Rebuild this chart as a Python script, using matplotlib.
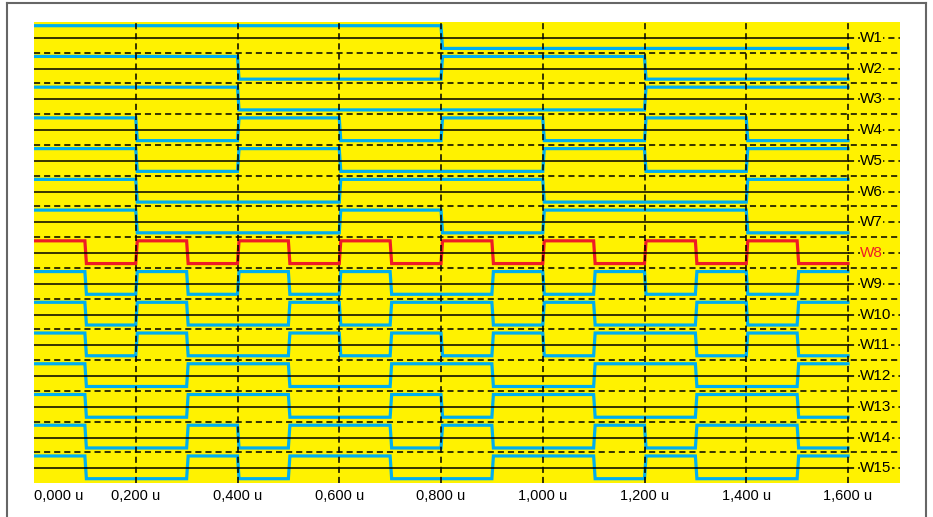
import matplotlib.pyplot as plt
from matplotlib.lines import Line2D

plt.rcParams['font.family'] = ['Liberation Sans', 'DejaVu Sans']

# signal names, top to bottom
names = ['W1', 'W2', 'W3', 'W4', 'W5', 'W6', 'W7', 'W8',
         'W9', 'W10', 'W11', 'W12', 'W13', 'W14', 'W15']

# logic level of each signal in 0.1 u steps (1 = high)
patterns = [
    '1111111100000000',
    '1111000011110000',
    '1111000000001111',
    '1100110011001100',
    '1100110000110011',
    '1100001111000011',
    '1100001100111100',
    '1010101010101010',
    '1010101001010101',
    '1010010110100101',
    '1010010101011010',
    '1001100110011001',
    '1001100101100110',
    '1001011010010110',
    '1001011001101001',
]
step = 0.1

ticks = [0.0, 0.2, 0.4, 0.6, 0.8, 1.0, 1.2, 1.4, 1.6]
tick_labels = ['0,000 u', '0,200 u', '0,400 u', '0,600 u', '0,800 u',
               '1,000 u', '1,200 u', '1,400 u', '1,600 u']

t_end = 1.6
yellow = '#FFF200'
blue = '#00AEEF'
red = '#EE1C25'


def wave(bits, row, edge=0.003):
    hi, lo = row + 0.12, row + 0.86
    lv = [hi if b == '1' else lo for b in bits]
    ts, ys = [0.0], [lv[0]]
    for i in range(1, len(lv)):
        if lv[i] != lv[i - 1]:
            t = i * step
            ts += [t, t + edge]
            ys += [lv[i - 1], lv[i]]
    ts.append(len(lv) * step)
    ys.append(lv[-1])
    return ts, ys


W, H = 933, 517
fig = plt.figure(figsize=(W / 100, H / 100), dpi=100)
ax = fig.add_axes([34 / W, 1 - 483 / H, 866 / W, 461 / H])
ax.set_facecolor(yellow)
x_max = t_end + 52 / 508.75
ax.set_xlim(0, x_max)
ax.set_ylim(len(names), 0)
for s in ax.spines.values():
    s.set_visible(False)

dash = (0, (4, 2.6))

# row grid: dashed borders, solid centre lines (dashed past the end of data)
for k in range(1, len(names)):
    ax.axhline(k, color='black', lw=1.1, ls=dash, zorder=3)
for k in range(len(names)):
    mid = k + 0.52
    ax.plot([0, t_end], [mid, mid], color='black', lw=1.1, zorder=3)
    ax.plot([t_end, x_max], [mid, mid], color='black', lw=1.1, ls=dash, zorder=3)

for t in ticks[1:]:
    ax.axvline(t, color='black', lw=1.1, ls=dash, zorder=3)

for k, (name, bits) in enumerate(zip(names, patterns)):
    col = red if name == 'W8' else blue
    ts, ys = wave(bits, k)
    ax.plot(ts, ys, color=col, lw=2.3, solid_joinstyle='miter', zorder=2)
    ax.text(t_end + 12 / 508.75, k + 0.52, name,
            color=red if name == 'W8' else 'black', fontsize=11,
            ha='left', va='center', zorder=4,
            bbox=dict(facecolor=yellow, edgecolor='none', pad=0.3))

ax.set_yticks([])
ax.set_xticks(ticks, tick_labels)
ax.tick_params(axis='x', length=0, pad=4, labelsize=10.5)
ax.get_xticklabels()[0].set_ha('left')

# frame around the whole figure
fig.add_artist(Line2D([6.5 / W, 6.5 / W], [0, 1 - 3 / H], color='#666666', lw=1.5))
fig.add_artist(Line2D([6.5 / W, 926 / W], [1 - 3 / H, 1 - 3 / H], color='#666666', lw=1.5))
fig.add_artist(Line2D([926 / W, 926 / W], [0, 1 - 3 / H], color='#666666', lw=1.5))

fig.savefig('out.png', dpi=100)
